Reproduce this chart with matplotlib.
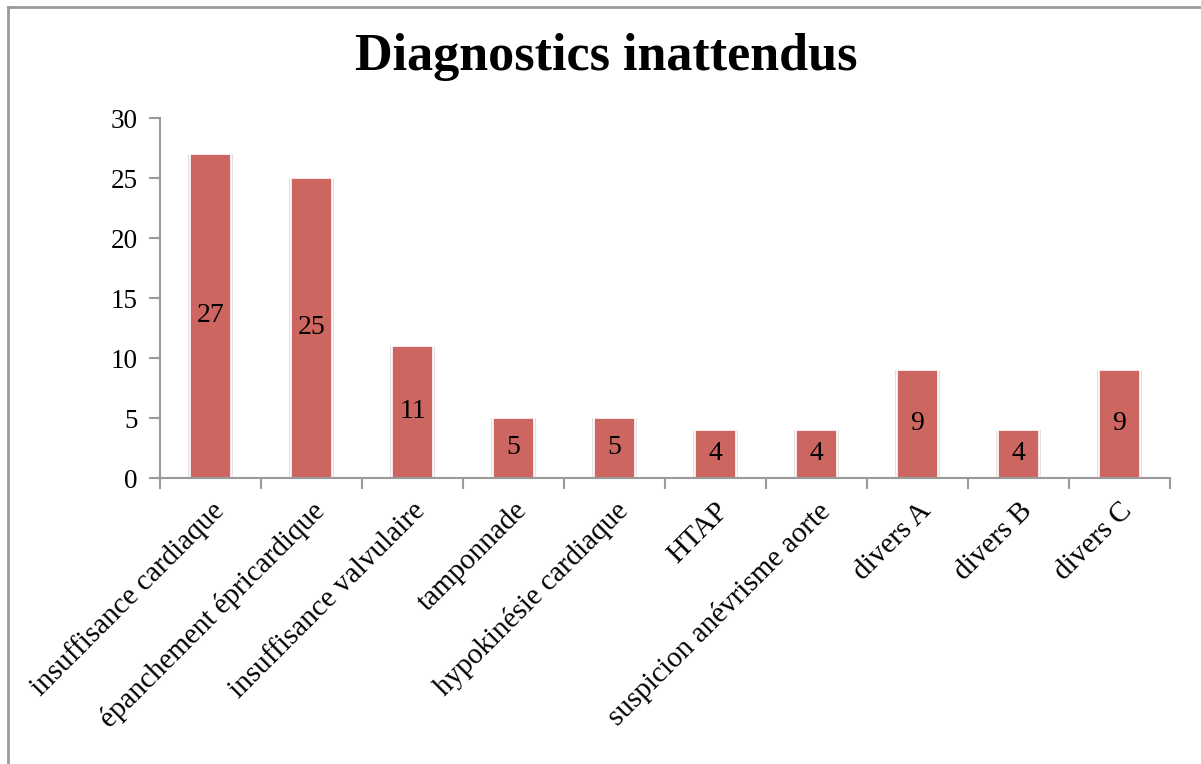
import matplotlib
matplotlib.use("Agg")
from matplotlib import pyplot as plt
from matplotlib.lines import Line2D
import numpy as np

categories = ["insuffisance cardiaque", "épanchement épricardique", "insuffisance valvulaire",
              "tamponnade", "hypokinésie cardiaque", "HTAP", "suspicion anévrisme aorte",
              "divers A", "divers B", "divers C"]
values = [27, 25, 11, 5, 5, 4, 4, 9, 4, 9]
yticks = [0, 5, 10, 15, 20, 25, 30]

serif = ["Liberation Serif", "DejaVu Serif"]
bar_color = "#CD6660"
axis_gray = "#9A9A9A"

fig = plt.figure(figsize=(12.01, 7.64), dpi=100)
ax = fig.add_axes([160 / 1201, 1 - 478 / 764, 1010 / 1201, 360 / 764])

x = np.arange(len(categories))
# faint shadow behind the bars
ax.bar(x, values, width=0.45, color="#E2E2E2", zorder=1)
bars = ax.bar(x, values, width=0.4, color=bar_color, edgecolor="white", linewidth=1.2, zorder=2)

for xi, v in zip(x, values):
    ax.text(xi, v / 2, str(v), ha="center", va="center", fontsize=20, family=serif, zorder=3)

ax.set_xlim(-0.5, len(categories) - 0.5)
ax.set_ylim(0, 30)
ax.set_yticks(yticks)
ax.set_yticklabels([str(t) for t in yticks], family=serif, fontsize=19.5)

ax.set_xticks(np.arange(len(categories) + 1) - 0.5)
ax.set_xticklabels([])
ax.set_xticks(x, minor=True)
ax.set_xticklabels(categories, minor=True, rotation=45, ha="right", rotation_mode="anchor",
                   family=serif, fontsize=21)
ax.tick_params(axis="x", which="minor", length=0, pad=14)
ax.tick_params(axis="x", which="major", length=8, color=axis_gray, width=1.5)
ax.tick_params(axis="y", length=8, color=axis_gray, width=1.5, pad=8)

for side in ["top", "right"]:
    ax.spines[side].set_visible(False)
for side in ["left", "bottom"]:
    ax.spines[side].set_color(axis_gray)
    ax.spines[side].set_linewidth(1.5)

fig.text(606 / 1201, 1 - 57 / 764, "Diagnostics inattendus", ha="center", va="center",
         fontsize=37.5, fontweight="bold", family=serif)

# outer frame (left and top edges only visible)
fig.add_artist(Line2D([7.5 / 1201, 7.5 / 1201], [0, 1 - 7 / 764], transform=fig.transFigure,
                      color=axis_gray, linewidth=2))
fig.add_artist(Line2D([7.5 / 1201, 1199 / 1201], [1 - 7 / 764, 1 - 7 / 764], transform=fig.transFigure,
                      color=axis_gray, linewidth=2))

fig.savefig("out.png", dpi=100, facecolor="white")
